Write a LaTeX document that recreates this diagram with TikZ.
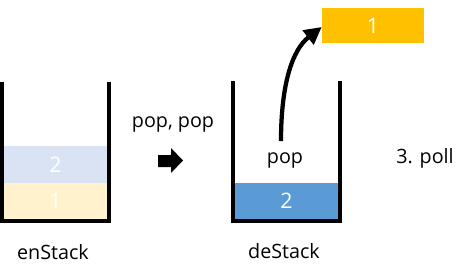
\documentclass[tikz,border=0pt]{standalone}
\usepackage{fontspec}
\setmainfont{Open Sans}
\usetikzlibrary{arrows.meta}
\definecolor{lblue}{HTML}{DAE3F3}
\definecolor{lyellow}{HTML}{FFF2CC}
\definecolor{mblue}{HTML}{5B9BD5}
\definecolor{gold}{HTML}{FFC000}
\begin{document}
\begin{tikzpicture}[x=0.75pt,y=-0.75pt,
  font=\fontsize{14.8pt}{17pt}\selectfont,
  cell/.style={draw=none, inner sep=0pt, minimum width=77.25pt, text=white, font=\fontsize{16pt}{18pt}\selectfont},
  wall/.style={line width=3pt, miter limit=10},
  lbl/.style={anchor=base, inner sep=0pt, text=black}]
\useasboundingbox (0,0) rectangle (458,272);
% enStack
\node[cell, fill=lblue, minimum height=27.75pt] (e2) at (55.5,164.5) {2};
\node[cell, fill=lyellow, minimum height=27pt] (e1) at (55.5,201) {1};
\draw[wall] (2,82) -- (2,221) -- (109,221) -- (109,82);
\node[lbl] (en) at (53,259) {enStack};
% middle
\node[lbl] (pp) at (173,127) {pop, pop};
\fill (158,155) -- (171,155) -- (171,148) -- (183,160.5) -- (171,173) -- (171,167) -- (158,167) -- cycle;
% deStack
\node[cell, fill=mblue, minimum height=27pt] (d2) at (286.5,201) {2};
\draw[wall] (233,81) -- (233,221) -- (340,221) -- (340,81);
\node[lbl] (de) at (284,258) {deStack};
\node[lbl] (pop) at (285,163) {pop};
\coordinate (start) at (281,141);
% output
\node[cell, fill=gold, minimum width=76.5pt, minimum height=26.25pt] (o1) at (373,25.5) {1};
\draw[line width=3.2pt, -{Triangle[length=13pt,width=13pt]}] (start) .. controls (281,85) and (292,50) .. (o1.west |- 0,27);
\node[lbl] (poll) at (425,163) {3. poll};
\end{tikzpicture}
\end{document}
